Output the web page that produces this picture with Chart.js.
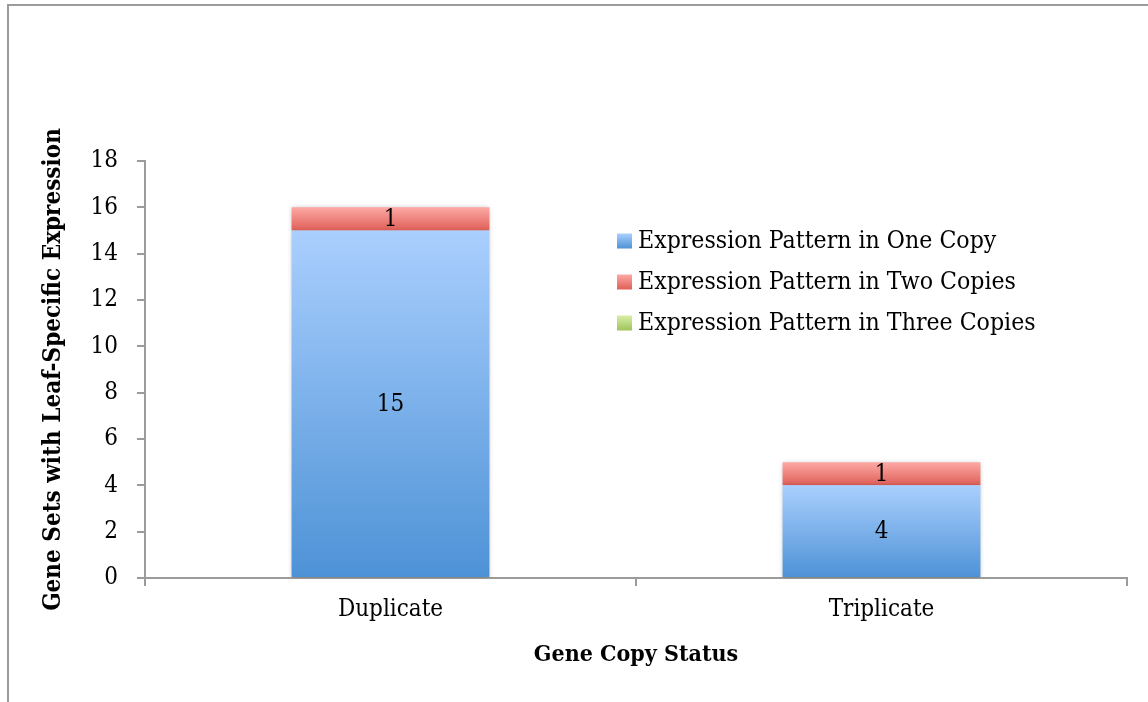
<!DOCTYPE html>
<html>
<head>
<meta charset="utf-8">
<script src="https://cdn.jsdelivr.net/npm/chart.js@4.4.1/dist/chart.umd.min.js"></script>
<style>
  html, body { margin: 0; padding: 0; background: #fff; }
  #wrap { position: relative; width: 1148px; height: 702px; overflow: hidden; }
  #frame { position: absolute; left: 7px; top: 4px; width: 1200px; height: 800px;
           border-left: 2px solid #9b9b9b; border-top: 2px solid #9b9b9b; pointer-events: none; }
</style>
</head>
<body>
<div id="wrap">
  <canvas id="chart" width="1148" height="702"></canvas>
  <div id="frame"></div>
</div>
<script>
// chart values
const categories = ['Duplicate', 'Triplicate'];
const oneCopy = [15, 4];
const twoCopies = [1, 1];
const threeCopies = [0, 0];
const seriesNames = ['Expression Pattern in One Copy', 'Expression Pattern in Two Copies', 'Expression Pattern in Three Copies'];
const yTicks = [0, 2, 4, 6, 8, 10, 12, 14, 16, 18];

// light (top) / dark (bottom) gradient stops per series
const shades = [
    ['#aacffe', '#4d92d6'],
    ['#fda9a5', '#df5f57'],
    ['#d9eea8', '#9dc459']
];

const FONT = "'DejaVu Serif Condensed', 'DejaVu Serif', serif";

function segGradient(ctx, light, dark) {
    const chart = ctx.chart;
    if (!chart.chartArea || ctx.type !== 'data') return dark;
    const i = ctx.dataIndex, d = ctx.datasetIndex;
    let base = 0;
    for (let k = 0; k < d; k++) base += chart.data.datasets[k].data[i];
    const top = base + chart.data.datasets[d].data[i];
    const y0 = chart.scales.y.getPixelForValue(top);
    const y1 = chart.scales.y.getPixelForValue(base);
    if (y1 - y0 < 1) return dark;
    const g = chart.ctx.createLinearGradient(0, y0, 0, y1);
    g.addColorStop(0, light);
    g.addColorStop(1, dark);
    return g;
}

// soft shadow round the bars + value labels in the middle of each segment
const barDecor = {
    id: 'barDecor',
    beforeDatasetsDraw(chart) {
        const c = chart.ctx;
        c.save();
        c.shadowColor = 'rgba(0,0,0,0.28)';
        c.shadowBlur = 5;
        c.shadowOffsetY = 1;
    },
    afterDatasetsDraw(chart) {
        const c = chart.ctx;
        c.restore();
        c.save();
        c.fillStyle = '#000';
        c.font = '24px ' + FONT;
        c.textAlign = 'center';
        c.textBaseline = 'middle';
        chart.data.datasets.forEach((ds, d) => {
            chart.getDatasetMeta(d).data.forEach((bar, i) => {
                if (!ds.data[i]) return;
                c.fillText(String(ds.data[i]), bar.x, (bar.y + bar.base) / 2 + 1);
            });
        });
        c.restore();
    }
};

// legend sitting inside the plot area
const innerLegend = {
    id: 'innerLegend',
    afterDraw(chart) {
        const c = chart.ctx;
        const x = 617, y0 = 241, step = 41, box = 15;
        c.save();
        c.font = '24.6px ' + FONT;
        c.textBaseline = 'middle';
        chart.data.datasets.forEach((ds, d) => {
            const y = y0 + d * step;
            const g = c.createLinearGradient(0, y - box / 2, 0, y + box / 2);
            g.addColorStop(0, shades[d][0]);
            g.addColorStop(1, shades[d][1]);
            c.fillStyle = g;
            c.fillRect(x, y - box / 2, box, box);
            c.fillStyle = '#000';
            c.fillText(ds.label, x + 21, y + 1);
        });
        c.restore();
    }
};

const seriesData = [oneCopy, twoCopies, threeCopies];

new Chart(document.getElementById('chart'), {
    type: 'bar',
    data: {
        labels: categories,
        datasets: seriesData.map((vals, d) => ({
            label: seriesNames[d],
            data: vals,
            backgroundColor: ctx => segGradient(ctx, shades[d][0], shades[d][1]),
            borderWidth: 0,
            categoryPercentage: 1,
            barPercentage: 0.403
        }))
    },
    options: {
        responsive: false,
        animation: false,
        events: [],
        layout: { padding: { top: 161, right: 21, bottom: 0, left: 0 } },
        plugins: {
            legend: { display: false },
            tooltip: { enabled: false }
        },
        scales: {
            x: {
                stacked: true,
                grid: { offset: true, drawOnChartArea: false, drawTicks: true, tickLength: 8, color: '#9b9b9b', lineWidth: 2 },
                border: { color: '#9b9b9b', width: 2 },
                ticks: { color: '#000', font: { family: FONT, size: 24 }, padding: 9 },
                title: { display: true, text: 'Gene Copy Status', color: '#000',
                         font: { family: FONT, size: 23, weight: 'bold' }, padding: { top: 0, bottom: 33 } },
                afterFit(scale) { scale.height = 124; }
            },
            y: {
                stacked: true,
                min: 0,
                max: 18,
                afterBuildTicks(scale) { scale.ticks = yTicks.map(v => ({ value: v })); },
                grid: { drawOnChartArea: false, drawTicks: true, tickLength: 8, color: '#9b9b9b', lineWidth: 2 },
                border: { color: '#9b9b9b', width: 2 },
                ticks: { color: '#000', font: { family: FONT, size: 24 }, padding: 19 },
                title: { display: true, text: 'Gene Sets with Leaf-Specific Expression', color: '#000',
                         font: { family: FONT, size: 24, weight: 'bold' }, padding: { top: 39, bottom: 0 } },
                afterFit(scale) { scale.width = 145; }
            }
        }
    },
    plugins: [barDecor, innerLegend]
});
</script>
</body>
</html>
